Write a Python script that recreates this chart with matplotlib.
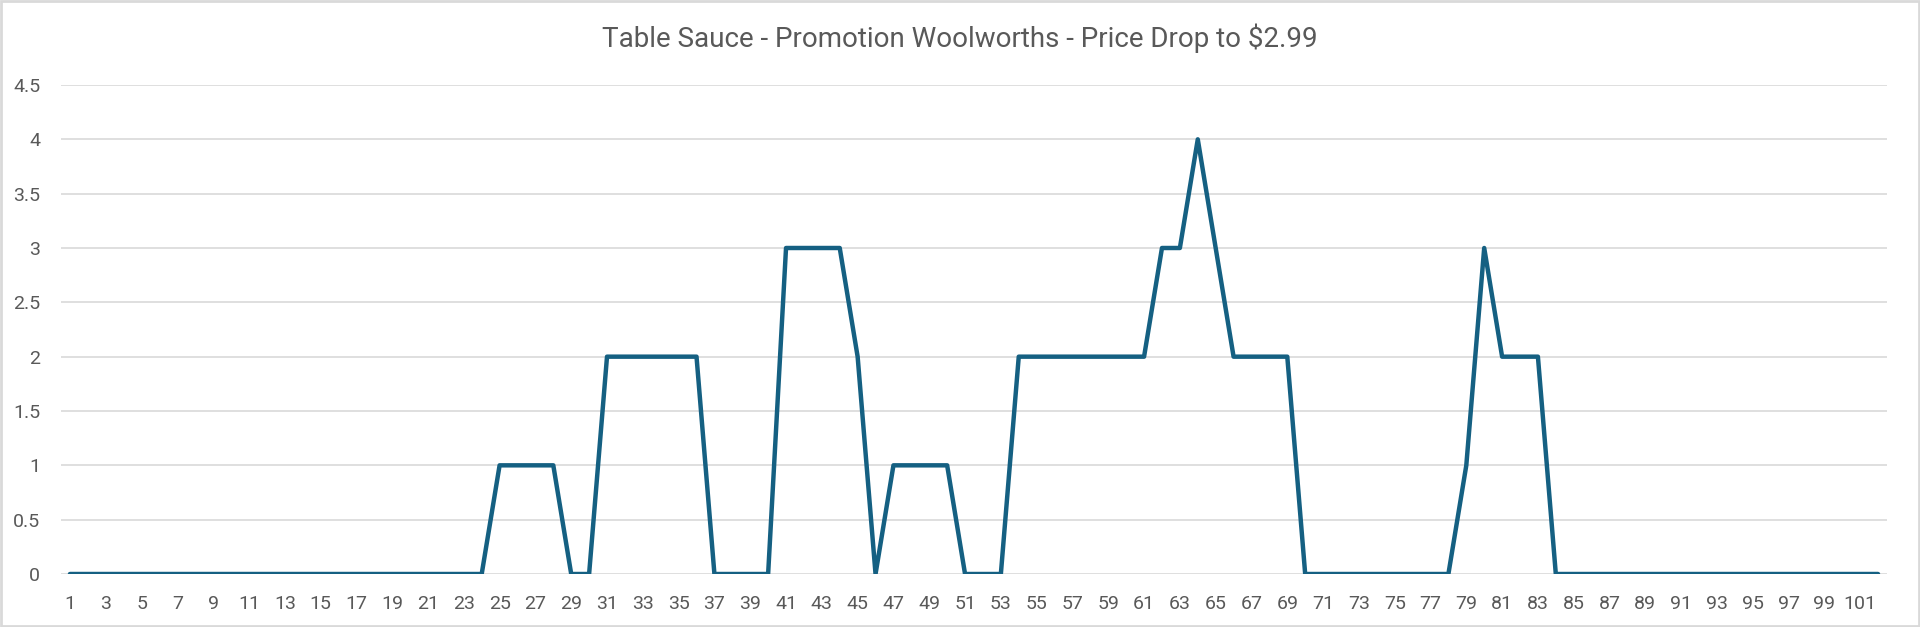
import matplotlib
matplotlib.use("Agg")
import matplotlib.pyplot as plt
from matplotlib.patches import Rectangle

# weekly units sold
weeks = list(range(1, 103))
units = [0, 0, 0, 0, 0, 0, 0, 0, 0, 0,
         0, 0, 0, 0, 0, 0, 0, 0, 0, 0,
         0, 0, 0, 0, 1, 1, 1, 1, 0, 0,
         2, 2, 2, 2, 2, 2, 0, 0, 0, 0,
         3, 3, 3, 3, 2, 0, 1, 1, 1, 1,
         0, 0, 0, 2, 2, 2, 2, 2, 2, 2,
         2, 3, 3, 4, 3, 2, 2, 2, 2, 0,
         0, 0, 0, 0, 0, 0, 0, 0, 1, 3,
         2, 2, 2, 0, 0, 0, 0, 0, 0, 0,
         0, 0, 0, 0, 0, 0, 0, 0, 0, 0,
         0, 0]
tick_labels = [str(w) for w in weeks if w % 2 == 1]
title = "Table Sauce - Promotion Woolworths - Price Drop to $2.99"

plt.rcParams['font.family'] = ['Roboto', 'DejaVu Sans']
txt = '#595959'

fig = plt.figure(figsize=(19.2, 6.27), dpi=100)
# plot area in pixels: x 61..1887, y 85..574
ax = fig.add_axes([61/1920, 1 - 574/627, 1826/1920, 489/627])

ax.plot(weeks, units, color='#156082', lw=3.2, solid_joinstyle='round',
        solid_capstyle='round', zorder=3)

ax.set_xlim(0.5, 102.5)
ax.set_ylim(0, 4.5)
ax.set_yticks([i * 0.5 for i in range(10)])
ax.set_yticklabels(['0', '0.5', '1', '1.5', '2', '2.5', '3', '3.5', '4', '4.5'])
ax.set_xticks([w for w in weeks if w % 2 == 1])
ax.set_xticklabels(tick_labels)
ax.tick_params(axis='both', length=0, labelsize=14, colors=txt)
ax.tick_params(axis='y', pad=15)
ax.tick_params(axis='x', pad=15)
ax.grid(axis='y', color='#d9d9d9', lw=1.2)
ax.set_axisbelow(True)
for s in ax.spines.values():
    s.set_visible(False)

fig.text(0.5, 1 - 38/627, title, ha='center', va='center', fontsize=20, color=txt)

# chart border
fig.patches.append(Rectangle((1/1920, 1/627), 1 - 2/1920, 1 - 2/627,
                             transform=fig.transFigure, fill=False,
                             edgecolor='#d9d9d9', lw=2))

fig.savefig('out.png', dpi=100)
